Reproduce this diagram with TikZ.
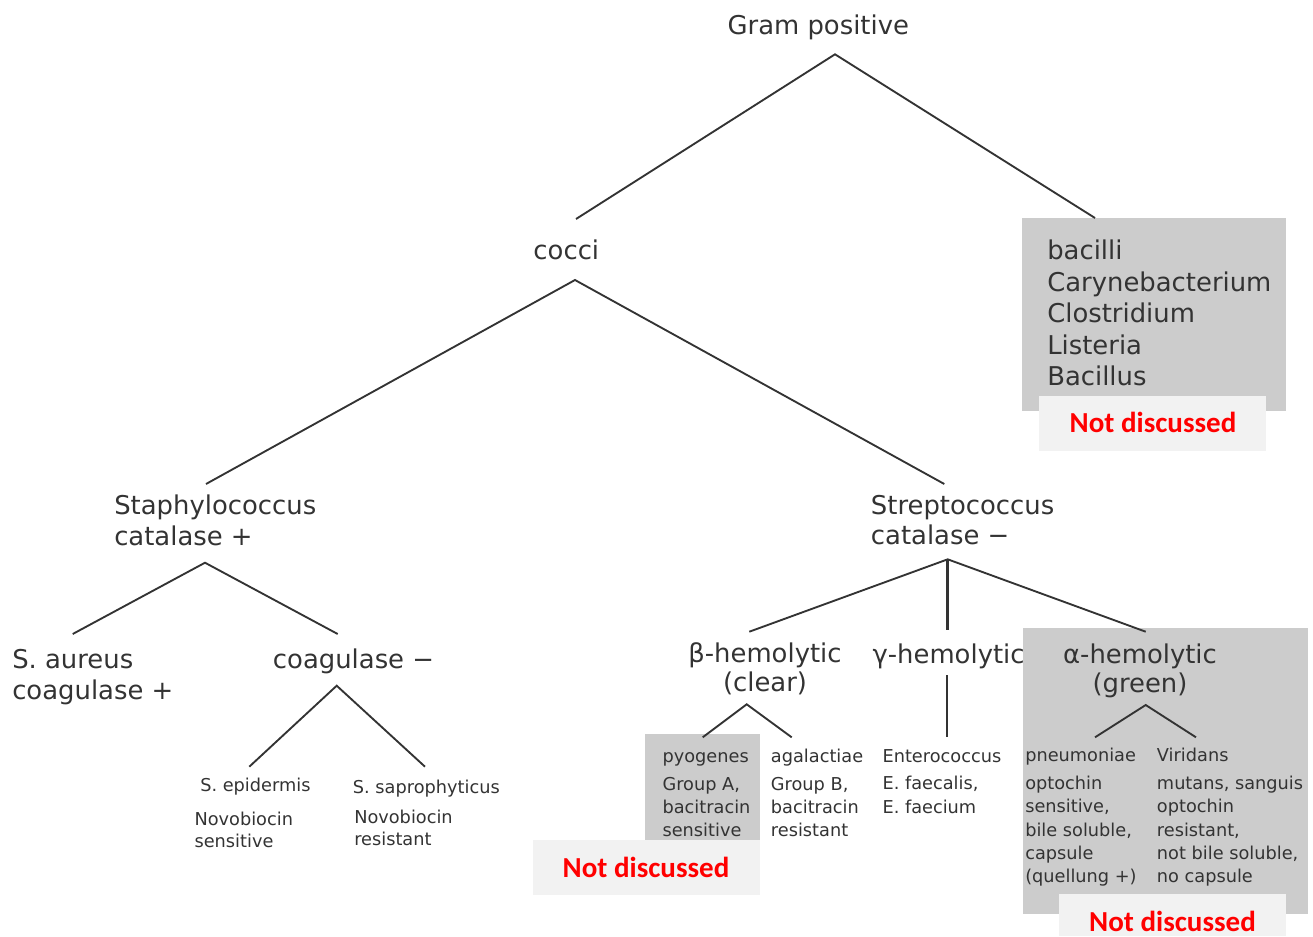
\documentclass[tikz,border=0pt]{standalone}
\usepackage{fontspec}
\setmainfont{DejaVu Sans}
\newfontfamily\calib{Carlito}
\definecolor{txt}{HTML}{333333}
\definecolor{boxg}{HTML}{CCCCCC}
\definecolor{boxl}{HTML}{F2F2F2}
\definecolor{nred}{HTML}{FF0000}
\begin{document}
\begin{tikzpicture}[x=0.75pt,y=-0.75pt,
  big/.style={font=\fontsize{19.4pt}{#1}\selectfont, text=txt, inner sep=0pt},
  big/.default=23.5pt,
  small/.style={font=\fontsize{13.3pt}{#1}\selectfont, text=txt, inner sep=0pt},
  small/.default=17.5pt,
  link/.style={draw=txt, line width=1.4pt},
  thicklink/.style={draw=txt, line width=2pt},
  note/.style={font=\calib\bfseries\fontsize{21.75pt}{26pt}\selectfont, text=nred, inner sep=0pt}]
\useasboundingbox (0,0) rectangle (1313,936);

% background boxes
\fill[boxg] (1022,218) rectangle (1286,410.5);
\fill[boxl] (1039,396) rectangle (1266,450.5);
\fill[boxg] (1022.5,627.5) rectangle (1307.5,914);
\fill[boxl] (1059,893.5) rectangle (1286,936);
\fill[boxg] (645,734) rectangle (760,840);
\fill[boxl] (533,840) rectangle (760,895);

% nodes
\node[big, anchor=base] (gp) at (818.3,34.3) {Gram positive};
\node[big, anchor=base] (cocci) at (566.3,259.3) {cocci};
\node[big=23.7pt, anchor=north west, align=left] (bacilli) at (1047,237.2)
  {\strut bacilli\\Carynebacterium\\Clostridium\\Listeria\\Bacillus};
\node[note, anchor=base] (nd1) at (1153,432.7) {Not discussed};

\node[big=23pt, anchor=north west, align=left] (staph) at (114,492.8)
  {\strut Staphylococcus\\catalase +};
\node[big=22.7pt, anchor=north west, align=left] (strep) at (870.7,492.8)
  {\strut Streptococcus\\catalase −};

\node[big=23.25pt, anchor=north west, align=left] (aureus) at (12,646.6)
  {\strut S. aureus\\coagulase +};
\node[big, anchor=base west] (coagneg) at (272.7,668.3) {coagulase −};

\node[small, anchor=base west] (epi) at (200,791.7) {S. epidermis};
\node[small=17pt, anchor=north west, align=left] (epinote) at (194.3,809.1)
  {\strut Novobiocin\\sensitive};
\node[small, anchor=base west] (sapro) at (352.7,793.3) {S. saprophyticus};
\node[small=16.3pt, anchor=north west, align=left] (sapronote) at (354,808.1)
  {\strut Novobiocin\\resistant};

\node[big=21.75pt, anchor=north, align=center] (beta) at (765,642.4)
  {\strut β-hemolytic\\(clear)};
\node[big, anchor=base west] (gamma) at (872.3,663) {γ-hemolytic};
\node[big=21.75pt, anchor=north, align=center] (alpha) at (1140,643)
  {\strut α-hemolytic\\(green)};

\node[small, anchor=base west] (pyo) at (662.3,762) {pyogenes};
\node[small, anchor=north west, align=left] (pyonote) at (662.3,773.7)
  {\strut Group A,\\bacitracin\\sensitive};
\node[note, anchor=base] (nd2) at (646,877.5) {Not discussed};

\node[small, anchor=base west] (aga) at (770.7,762) {agalactiae};
\node[small, anchor=north west, align=left] (aganote) at (770.7,773.7)
  {\strut Group B,\\bacitracin\\resistant};

\node[small, anchor=base west] (entero) at (882.3,762) {Enterococcus};
\node[small, anchor=north west, align=left] (enteronote) at (882.3,773.2)
  {\strut E. faecalis,\\E. faecium};

\node[small, anchor=base west] (pneu) at (1025,761.7) {pneumoniae};
\node[small, anchor=north west, align=left] (pneunote) at (1025,773)
  {\strut optochin\\sensitive,\\bile soluble,\\capsule\\(quellung +)};
\node[small, anchor=base west] (viri) at (1156.7,761.7) {Viridans};
\node[small, anchor=north west, align=left] (virinote) at (1156.7,773)
  {\strut mutans, sanguis\\optochin\\resistant,\\not bile soluble,\\no capsule};
\node[note, anchor=base] (nd3) at (1172.5,931.5) {Not discussed};

% connector points
\coordinate (gpA) at (835,54.3);
\coordinate (coccT) at (576,219);
\coordinate (bacT) at (1095,218);
\coordinate (coccA) at (575,280);
\coordinate (staphT) at (206,484);
\coordinate (strepT) at (944.3,484);
\coordinate (staphA) at (205,562.7);
\coordinate (aureusT) at (72.7,634);
\coordinate (coagT) at (337.7,634);
\coordinate (coagA) at (336.7,685.7);
\coordinate (epiT) at (249.3,766.7);
\coordinate (saproT) at (425,766.7);
\coordinate (strepA) at (947.7,559.3);
\coordinate (betaT) at (749.3,631.7);
\coordinate (gammaT) at (947.7,630);
\coordinate (alphaT) at (1145.7,631.7);
\coordinate (betaA) at (746.7,704.3);
\coordinate (pyoT) at (702.7,737.3);
\coordinate (agaT) at (791.7,737.3);
\coordinate (gammaA) at (946.7,675);
\coordinate (enteroT) at (946.7,737.3);
\coordinate (alphaA) at (1145.7,705);
\coordinate (pneuT) at (1095,737.3);
\coordinate (viriT) at (1196,737.3);

% connectors
\draw[link] (coccT) -- (gpA) -- (bacT);
\draw[link] (staphT) -- (coccA) -- (strepT);
\draw[link] (aureusT) -- (staphA) -- (coagT);
\draw[link] (epiT) -- (coagA) -- (saproT);
\draw[link] (betaT) -- (strepA) -- (alphaT);
\draw[thicklink] (strepA) -- (gammaT);
\draw[link] (pyoT) -- (betaA) -- (agaT);
\draw[link] (gammaA) -- (enteroT);
\draw[link] (pneuT) -- (alphaA) -- (viriT);
\end{tikzpicture}
\end{document}
